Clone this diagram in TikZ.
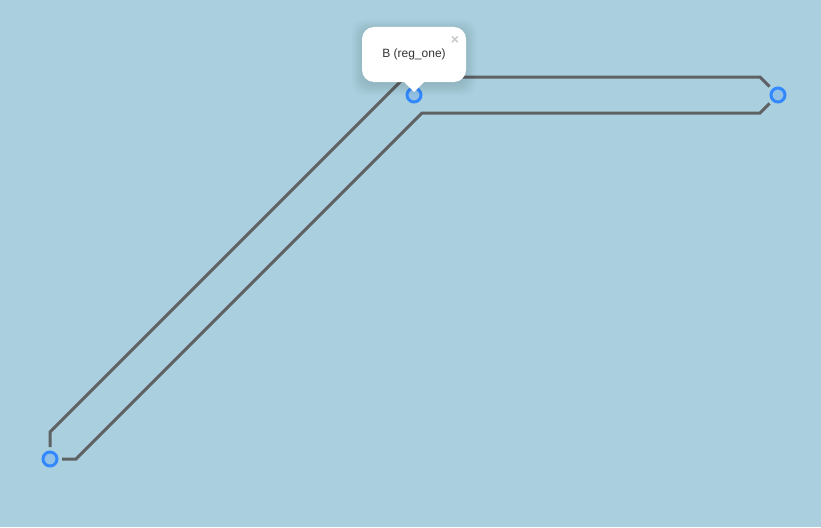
\documentclass[tikz,border=0pt]{standalone}
\usepackage{fontspec}
\setmainfont{Liberation Sans}
\usetikzlibrary{positioning}
\definecolor{mapbg}{HTML}{AAD0DF}
\definecolor{wiregray}{HTML}{5F6264}
\definecolor{markblue}{HTML}{3388FF}
\tikzset{
  wire/.style={draw=wiregray, line width=3pt},
  marker/.style={circle, draw=markblue, line width=3pt, fill=markblue, fill opacity=0.2, draw opacity=1, minimum size=14pt, inner sep=0pt, outer sep=5pt},
  popup/.style={fill=white, rounded corners=12pt, minimum width=104pt, minimum height=55pt, inner sep=0pt, outer sep=0pt},
  popshadow/.style={fill=black, fill opacity=0.02, rounded corners=12pt}
}
\begin{document}
\begin{tikzpicture}[x=1pt, y=-1pt]
            \useasboundingbox[fill=mapbg] (0,0) rectangle (821,527);
            \draw (50,459) node[marker] (m_a) {};
            \draw (414,95) node[marker] (m_b) {};
            \draw (778,95) node[marker] (m_c) {};
            % corners of the outline
            \coordinate (c_left) at (50,432);
            \coordinate (c_top) at (405,77);
            \coordinate (c_topright) at (760,77);
            \coordinate (c_lowright) at (760,113);
            \coordinate (c_low) at (422,113);
            \coordinate (c_lowleft) at (76,459);
            \draw[wire] (m_a) -- (c_left) -- (c_top) -- (c_topright) -- (m_c);
            \draw[wire] (m_c) -- (c_lowright) -- (c_low) -- (c_lowleft) -- (m_a);
            % popup
            \foreach \s in {-2,0,...,10} {
                \fill[popshadow] (362-\s,27+3-\s) rectangle (466+\s,82+3+\s);
            }
            \draw (414,54.5) node[popup] (pop) {};
            \coordinate (tip_l) at (403,81);
            \coordinate (tip_r) at (425,81);
            \coordinate (tip_b) at (414,92);
            \fill[white] (tip_l) -- (tip_b) -- (tip_r) -- cycle;
            \node[font=\fontsize{12}{14}\selectfont, text=black!80] (poptext) at (414,54.8) {B (reg\_one)};
            \node[font=\bfseries\fontsize{14}{14}\selectfont, text=black!22, inner sep=0pt] (popclose) at (455,40) {×};
\end{tikzpicture}
\end{document}
